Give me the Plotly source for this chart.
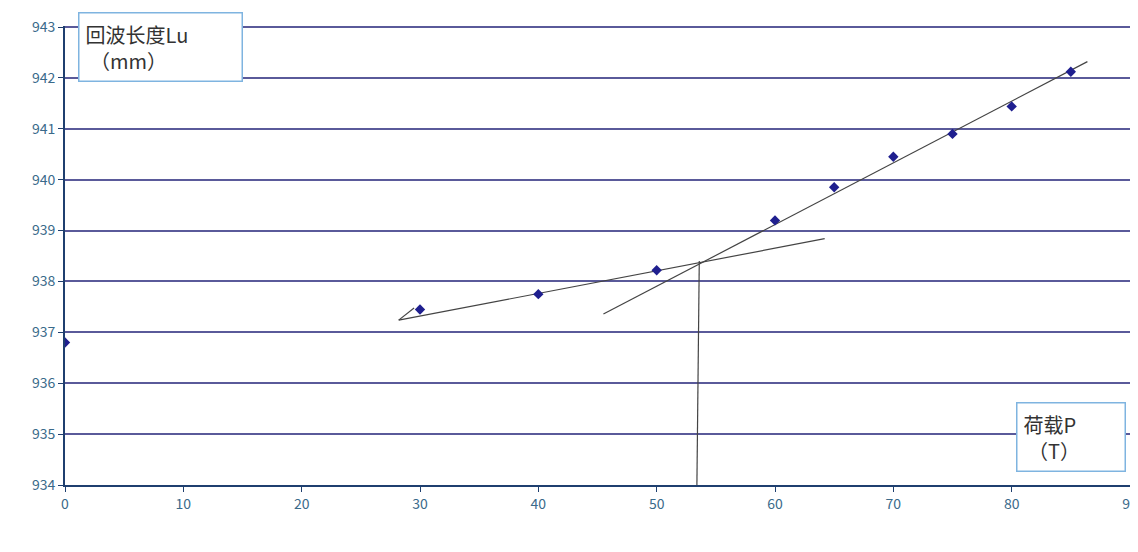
import plotly.graph_objects as go

load = [0, 30, 40, 50, 60, 65, 70, 75, 80, 85]
length = [936.8, 937.45, 937.75, 938.22, 939.2, 939.85, 940.45, 940.9, 941.44, 942.12]
line1_x = [28.2, 64.2]
line1_y = [937.24, 938.84]
line2_x = [45.5, 86.4]
line2_y = [937.36, 942.32]
vert_x = [53.4, 53.6]
vert_y = [934.0, 938.4]
arrow_x = [28.2, 29.5]
arrow_y = [937.24, 937.48]
xticks = list(range(0, 91, 10))
yticks = list(range(934, 944))

fig = go.Figure()
for xs, ys in [(line1_x, line1_y), (line2_x, line2_y), (vert_x, vert_y), (arrow_x, arrow_y)]:
    fig.add_trace(go.Scatter(x=xs, y=ys, mode="lines", line=dict(color="#444444", width=1.2),
                             showlegend=False, hoverinfo="skip"))
fig.add_trace(go.Scatter(x=load, y=length, mode="markers",
                         marker=dict(symbol="diamond", size=8, color="#1f1f8f"), showlegend=False))

fig.update_layout(
    width=1138, height=552, margin=dict(l=57, r=8, t=14, b=75),
    paper_bgcolor="white", plot_bgcolor="white",
    font=dict(family="Noto Sans CJK SC"),
    xaxis=dict(range=[0, 90], tickvals=xticks, showgrid=False, zeroline=False,
               showline=True, linecolor="#1f3f6f", linewidth=2, ticks="outside", ticklen=5,
               tickcolor="#1f3f6f", tickfont=dict(color="#3a6a8a", size=14)),
    yaxis=dict(range=[934, 943.02], tickvals=yticks, showgrid=True, gridcolor="#5a5a9a", gridwidth=2,
               zeroline=False, showline=True, linecolor="#1f3f6f", linewidth=2, ticks="outside",
               ticklen=5, tickcolor="#1f3f6f", tickfont=dict(color="#3a6a8a", size=14)),
    annotations=[
        dict(xref="paper", yref="paper", x=0.012, y=1.03, xanchor="left", yanchor="top",
             text="回波长度Lu<br> （mm）", showarrow=False, align="left",
             font=dict(size=20, color="#333"), bgcolor="white", bordercolor="#7fb4e0",
             borderwidth=1.5, borderpad=6, width=150),
        dict(xref="paper", yref="paper", x=0.893, y=0.18, xanchor="left", yanchor="top",
             text="荷载P<br> （T）", showarrow=False, align="left",
             font=dict(size=20, color="#333"), bgcolor="white", bordercolor="#7fb4e0",
             borderwidth=1.5, borderpad=6, width=95),
    ],
)
fig.write_html("out.html")
